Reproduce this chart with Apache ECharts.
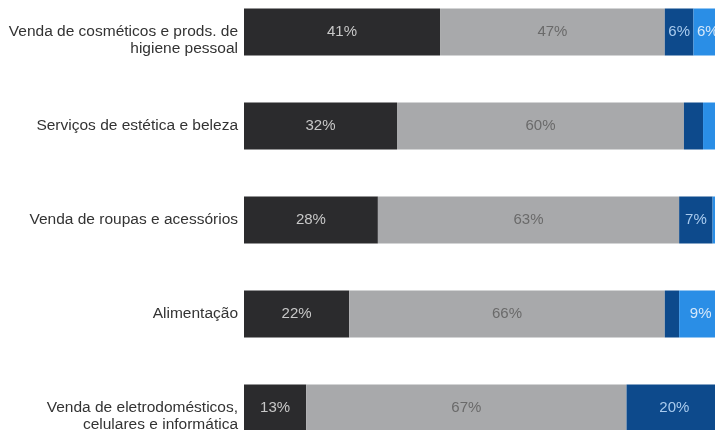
<!DOCTYPE html>
<html>
<head>
<meta charset="utf-8">
<script src="https://cdn.jsdelivr.net/npm/echarts@6/dist/echarts.min.js"></script>
<style>
  html, body { margin: 0; padding: 0; background: #fff; }
  #chart { width: 715px; height: 430px; }
</style>
</head>
<body>
<div id="chart"></div>
<script>
const categories = [
  'Venda de cosméticos e prods. de\nhigiene pessoal',
  'Serviços de estética e beleza',
  'Venda de roupas e acessórios',
  'Alimentação',
  'Venda de eletrodomésticos,\ncelulares e informática'
];
const serieA = [41, 32, 28, 22, 13];
const serieB = [47, 60, 63, 66, 67];
const serieC = [6, 4, 7, 3, 20];
const serieD = [6, 4, 2, 9, 0];

const cores = ['#2b2b2d', '#a8a9ab', '#0d4a8c', '#2a8ee6'];
const coresTexto = ['#c8c8c8', '#6a6a6a', '#a9cbee', '#d6e8fa'];
const fonte = 'Liberation Sans, Arial, sans-serif';

function makeSerie(data, i) {
  return {
    type: 'bar',
    stack: 'total',
    data: data,
    barWidth: 47,
    clip: false,
    itemStyle: { color: cores[i] },
    label: {
      show: true,
      position: 'inside',
      color: coresTexto[i],
      fontSize: 15,
      fontFamily: fonte,
      formatter: function (p) { return p.value >= 5 ? p.value + '%' : ''; }
    }
  };
}

const myChart = echarts.init(document.getElementById('chart'));
myChart.setOption({
  animation: false,
  // the chart is cropped on the right in the reference: 100% lies past the edge
  grid: { left: 244, right: 0, top: 32, bottom: 22, outerBoundsMode: 'none' },
  xAxis: { type: 'value', min: 0, max: 98.5, show: false },
  yAxis: {
    type: 'category',
    inverse: true,
    boundaryGap: false,
    data: categories,
    axisLine: { show: false },
    axisTick: { show: false },
    splitLine: { show: false },
    axisLabel: {
      color: '#333',
      fontSize: 15.5,
      lineHeight: 17,
      margin: 6,
      align: 'right',
      fontFamily: fonte,
      // first line sits on the bar centre, second line below it
      formatter: function (v) { return v.indexOf('\n') >= 0 ? '\n' + v : v; }
    }
  },
  series: [serieA, serieB, serieC, serieD].map(makeSerie)
});
</script>
</body>
</html>
